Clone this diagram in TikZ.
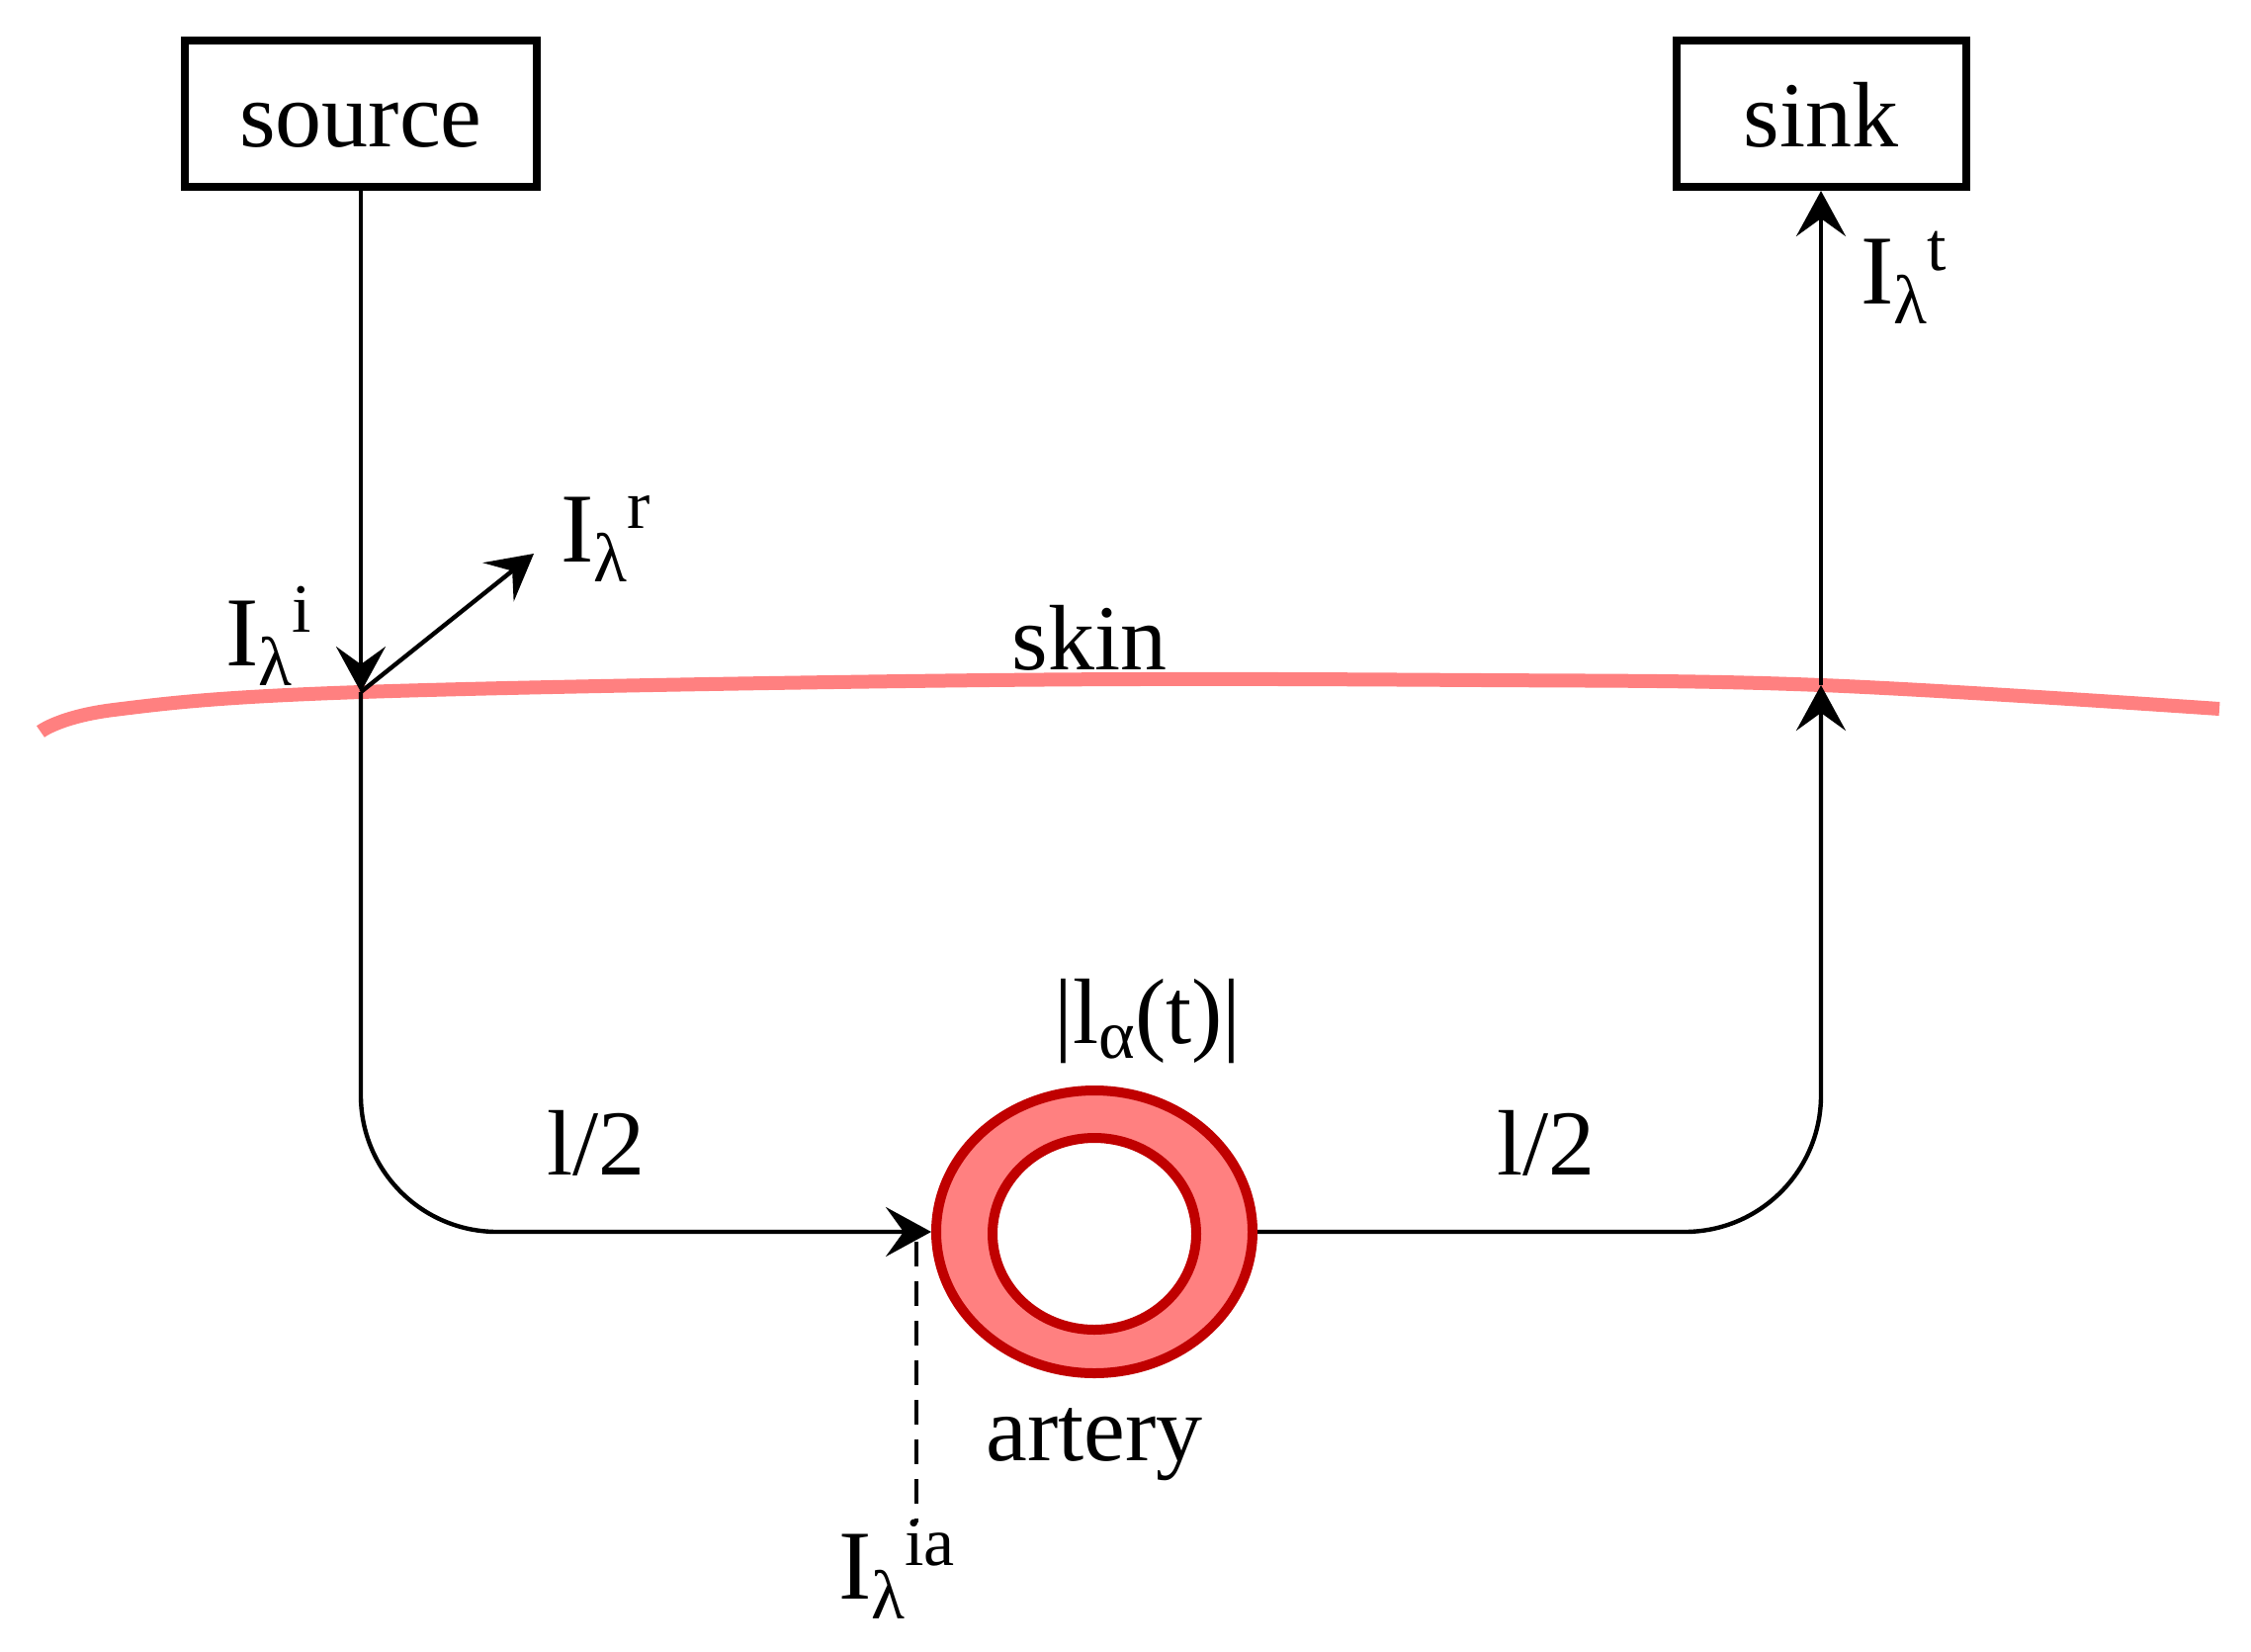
\documentclass[tikz,border=0pt]{standalone}
\usepackage{fontspec}
\setmainfont{Liberation Serif}
\usetikzlibrary{arrows.meta,shapes.geometric}
\definecolor{skinc}{HTML}{FF8080}
\definecolor{artd}{HTML}{C00000}
\newcommand{\BigF}{\fontsize{94}{110}\selectfont}
\newcommand{\Ifont}{\fontsize{100}{120}\selectfont}
\newcommand{\Sfont}{\fontsize{70}{80}\selectfont}
\newcommand{\Ilam}[1]{{\Ifont I\raisebox{-0.2em}{\Sfont λ}\raisebox{0.34em}{\Sfont #1}}}
\begin{document}
\begin{tikzpicture}[x=1pt,y=-1pt,
  box/.style={draw, line width=8pt, inner sep=0pt, font=\BigF, text height=66pt, text depth=0pt},
  flow/.style={line width=4.4pt},
  tip/.style={-{Stealth[length=46pt,width=50pt,inset=18pt]}},
  lbl/.style={inner sep=0pt, anchor=base west},
  word/.style={inner sep=0pt, anchor=base, font=\BigF},
  ring/.style={ellipse, draw=artd, line width=10pt, inner sep=0pt}]
\useasboundingbox (0,0) rectangle (2277,1670);

% skin
\coordinate (sk1) at (365,700);
\coordinate (sk2) at (1842,693);
\draw[skinc, line width=14pt] plot[smooth, tension=0.6] coordinates {(41,740) (115,718) (365,700) (1000,688) (1500,688) (1842,693) (2245,717)};

% boxes
\node[box, minimum width=356pt, minimum height=148pt] (src) at (365,115) {source};
\node[box, minimum width=293pt, minimum height=148pt] (snk) at (1842,115) {sink};

% artery
\node[ring, fill=skinc, minimum width=320pt, minimum height=286pt] (art) at (1107,1246) {};
\node[ring, fill=white, minimum width=206pt, minimum height=194pt] (lum) at (1107,1248) {};

% connectors
\coordinate (refl) at (540,560);
\coordinate (dtop) at (927,1256);
\coordinate (dbot) at (927,1540);
\draw[flow, tip] (src.south) -- (sk1);
\draw[flow, tip] (sk1) -- (refl);
\draw[flow, tip, rounded corners=138pt] (sk1) |- (art.west);
\draw[flow, tip, rounded corners=138pt] (art.east) -| (sk2);
\draw[flow, tip] (sk2) -- (snk.south);
\draw[flow, dash pattern=on 25pt off 15pt] (dtop) -- (dbot);

% labels
\node[lbl] (li) at (228,673) {\Ilam{i}};
\node[lbl] (lr) at (567,568) {\Ilam{r}};
\node[lbl] (lt) at (1882,307) {\Ilam{t}};
\node[lbl] (lia) at (848,1617) {\Ilam{ia}};
\node[word] (skin) at (1102,677) {skin};
\node[word] (h1) at (603,1188) {l/2};
\node[word] (h2) at (1564,1188) {l/2};
\node[word] (la) at (1161,1055) {|l\raisebox{-0.17em}{\Sfont α}(t)|};
\node[word] (artl) at (1107,1477) {artery};
\end{tikzpicture}
\end{document}
